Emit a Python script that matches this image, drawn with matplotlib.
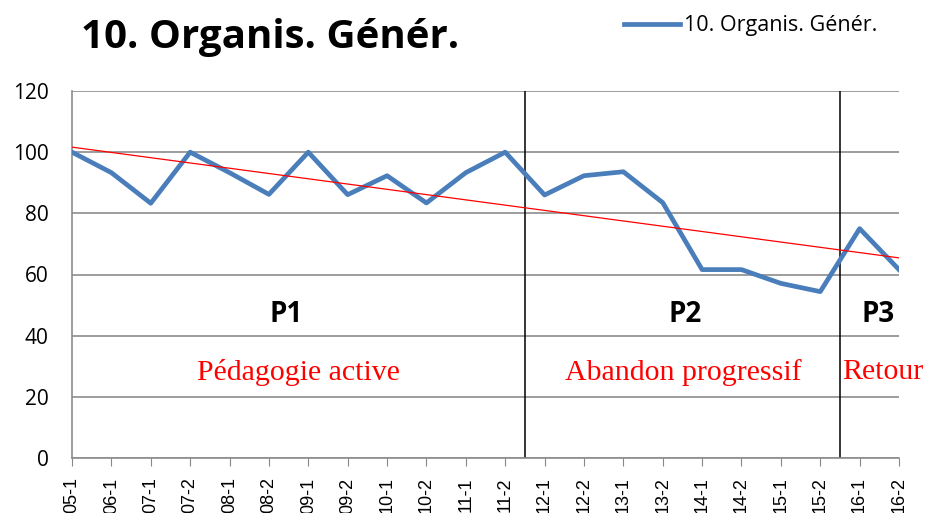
import matplotlib
matplotlib.use("Agg")
import matplotlib.pyplot as plt
import numpy as np

# data
periods = ["05-1", "06-1", "07-1", "07-2", "08-1", "08-2", "09-1", "09-2",
           "10-1", "10-2", "11-1", "11-2", "12-1", "12-2", "13-1", "13-2",
           "14-1", "14-2", "15-1", "15-2", "16-1", "16-2"]
scores = [100, 93.3, 83.3, 100, 93.3, 86.2, 100, 86.1, 92.3, 83.4, 93.3, 100,
          86.0, 92.3, 93.6, 83.5, 61.6, 61.6, 57.1, 54.4, 75.0, 61.6]
breaks = [11.5, 19.5]
phase_names = ["P1", "P2", "P3"]
phase_labels = ["Pédagogie active", "Abandon progressif", "Retour"]
name_x = [5.44, 15.56, 20.47]
label_x = [5.75, 15.53, 20.6]

series_name = "10. Organis. Génér."
blue = "#4A7EBB"

fig = plt.figure(figsize=(9.29, 5.13), dpi=100)
ax = fig.add_axes([72 / 929, 1 - 458 / 513, 827 / 929, 367 / 513])

x = np.arange(len(periods))
line, = ax.plot(x, scores, color=blue, lw=3.4, label=series_name, zorder=3)

# linear trend
coef = np.polyfit(x, scores, 1)
ax.plot(x, np.polyval(coef, x), color="red", lw=0.9, zorder=4)

for b in breaks:
    ax.axvline(b, color="black", lw=1.1, zorder=2)

for name, lab, nx, lx in zip(phase_names, phase_labels, name_x, label_x):
    ax.text(nx, 46.8, name, ha="center", va="center", fontsize=20,
            fontweight="bold", family="Open Sans")
    ax.text(lx, 28.1, lab, ha="center", va="center", fontsize=21.5,
            color="red", family="Liberation Serif", clip_on=False)

ax.set_xlim(0, len(periods) - 1)
ax.set_ylim(0, 120)
ax.set_yticks(range(0, 121, 20))
ax.set_xticks(x)
ax.set_xticklabels(periods, rotation=90, fontsize=13, family="Liberation Sans")
ax.tick_params(axis="y", length=0, labelsize=15, pad=17)
ax.tick_params(axis="x", length=6, color="#888888", pad=8)
for lbl in ax.get_yticklabels():
    lbl.set_family("Open Sans")
ax.grid(axis="y", color="#8c8c8c", lw=1.2)
ax.set_axisbelow(True)
for s in ["top", "right"]:
    ax.spines[s].set_visible(False)
for s in ["left", "bottom"]:
    ax.spines[s].set_color("#8c8c8c")
    ax.spines[s].set_linewidth(1.2)

fig.text(81 / 929, 1 - 48 / 513, series_name, fontsize=29, fontweight="bold",
         family="Open Sans", va="baseline", ha="left")
fig.legend(handles=[line], loc="center left", bbox_to_anchor=(605 / 929, 1 - 26 / 513),
           frameon=False, handlelength=2.6, handletextpad=0.15,
           prop={"family": "Open Sans", "size": 15.5})

fig.savefig("out.png", dpi=100)
